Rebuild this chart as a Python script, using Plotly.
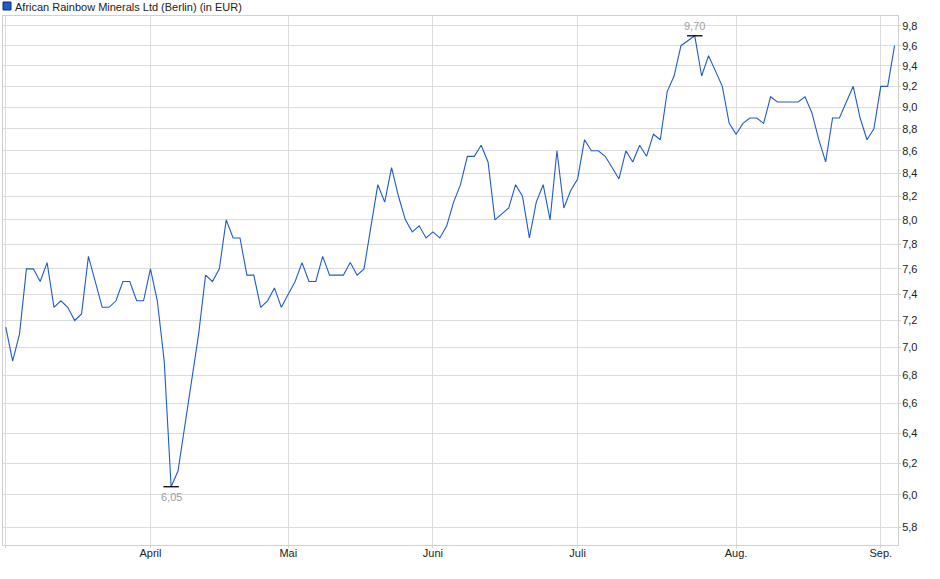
import numpy as np
import pandas as pd
import plotly.graph_objects as go

# trading days at Berlin, 3 Mar - 3 Sep 2025 (Good Friday, Easter Monday, 1 May closed)
holidays = ['2025-04-18', '2025-04-21', '2025-05-01']
days = pd.bdate_range('2025-03-03', '2025-09-03')
dates = [d.strftime('%Y-%m-%d') for d in days if d.strftime('%Y-%m-%d') not in holidays]

prices = [
    # March
    7.15, 6.90, 7.10, 7.60, 7.60, 7.50, 7.65, 7.30, 7.35, 7.30,
    7.20, 7.25, 7.70, 7.50, 7.30, 7.30, 7.35, 7.50, 7.50, 7.35,
    7.35,
    # April
    7.60, 7.35, 6.90, 6.05, 6.15, 6.45, 6.75, 7.10, 7.55, 7.50,
    7.60, 8.00, 7.85, 7.85, 7.55, 7.55, 7.30, 7.35, 7.45, 7.30,
    # May
    7.40, 7.50, 7.65, 7.50, 7.50, 7.70, 7.55, 7.55, 7.55, 7.65,
    7.55, 7.60, 7.95, 8.30, 8.15, 8.45, 8.20, 8.00, 7.90, 7.95,
    7.85,
    # June
    7.90, 7.85, 7.95, 8.15, 8.30, 8.55, 8.55, 8.65, 8.50, 8.00,
    8.05, 8.10, 8.30, 8.20, 7.85, 8.15, 8.30, 8.00, 8.60, 8.10,
    8.25,
    # July
    8.35, 8.70, 8.60, 8.60, 8.55, 8.45, 8.35, 8.60, 8.50, 8.65,
    8.55, 8.75, 8.70, 9.15, 9.30, 9.60, 9.65, 9.70, 9.30, 9.50,
    9.35, 9.20, 8.85,
    # August
    8.75, 8.85, 8.90, 8.90, 8.85, 9.10, 9.05, 9.05, 9.05, 9.05,
    9.10, 8.95, 8.70, 8.50, 8.90, 8.90, 9.05, 9.20, 8.90, 8.70,
    8.80,
    # September
    9.20, 9.20, 9.60,
]

month_ticks = ['2025-03-03', '2025-04-01', '2025-05-02', '2025-06-02',
               '2025-07-01', '2025-08-01', '2025-09-01']
month_labels = ['', 'April', 'Mai', 'Juni', 'Juli', 'Aug.', 'Sep.']

y_ticks = [5.8, 6.0, 6.2, 6.4, 6.6, 6.8, 7.0, 7.2, 7.4, 7.6, 7.8,
           8.0, 8.2, 8.4, 8.6, 8.8, 9.0, 9.2, 9.4, 9.6, 9.8]
y_labels = [f'{v:.1f}'.replace('.', ',') for v in y_ticks]

line_blue = '#1f5cc8'
font = 'Liberation Sans, Arial, sans-serif'

i_min = int(np.argmin(prices))
i_max = int(np.argmax(prices))

fig = go.Figure()
fig.add_trace(go.Scatter(x=dates, y=prices, mode='lines',
                         line=dict(color=line_blue, width=1.1),
                         hoverinfo='x+y', showlegend=False))
# low / high markers
fig.add_trace(go.Scatter(x=[dates[i_min], dates[i_max]],
                         y=[prices[i_min], prices[i_max]],
                         mode='markers',
                         marker=dict(symbol='line-ew', size=11,
                                     line=dict(color='black', width=1.3)),
                         hoverinfo='skip', showlegend=False))

fig.add_annotation(x=dates[i_min], y=np.log10(prices[i_min]),
                   text=f'{prices[i_min]:.2f}'.replace('.', ','),
                   showarrow=False, yanchor='top', yshift=-2,
                   font=dict(size=11, color='#a0a0a0', family=font))
fig.add_annotation(x=dates[i_max], y=np.log10(prices[i_max]),
                   text=f'{prices[i_max]:.2f}'.replace('.', ','),
                   showarrow=False, yanchor='bottom', yshift=2,
                   font=dict(size=11, color='#a0a0a0', family=font))

# title with the little series square
fig.add_shape(type='rect', xref='paper', yref='paper',
              xsizemode='pixel', ysizemode='pixel', xanchor=0, yanchor=1,
              x0=0, x1=8, y0=6, y1=14,
              fillcolor=line_blue, line=dict(color='#0d2f6e', width=1))
fig.add_annotation(xref='paper', yref='paper', x=0, y=1,
                   xanchor='left', yanchor='bottom', xshift=10, yshift=1,
                   text='African Rainbow Minerals Ltd (Berlin) (in EUR)',
                   showarrow=False, font=dict(size=11, color='#222', family=font))

fig.update_layout(
    width=940, height=579,
    margin=dict(l=3, r=42, t=16, b=34),
    paper_bgcolor='white', plot_bgcolor='white',
    font=dict(family=font, size=11, color='#222'),
    hovermode='closest',
)
fig.update_xaxes(type='category', range=[-0.4, 129.5],
                 tickmode='array', tickvals=month_ticks, ticktext=month_labels,
                 showgrid=True, gridcolor='#dcdcdc', gridwidth=1,
                 ticks='outside', ticklen=2, tickcolor='#d0d0d0',
                 ticklabelstandoff=-4,
                 showline=True, linecolor='#d0d0d0', mirror=True,
                 tickfont=dict(size=11, color='#222'))
fig.update_yaxes(type='log', side='right',
                 range=[np.log10(5.692), np.log10(9.903)],
                 tickmode='array', tickvals=y_ticks, ticktext=y_labels,
                 showgrid=True, gridcolor='#dcdcdc', gridwidth=1,
                 ticks='outside', ticklen=2, tickcolor='#d0d0d0',
                 ticklabelstandoff=-1,
                 showline=True, linecolor='#d0d0d0', mirror=True,
                 zeroline=False, tickfont=dict(size=11, color='#222'))

fig.write_html('out.html', config={'displayModeBar': False},
               post_script="document.body.style.margin='0';")
